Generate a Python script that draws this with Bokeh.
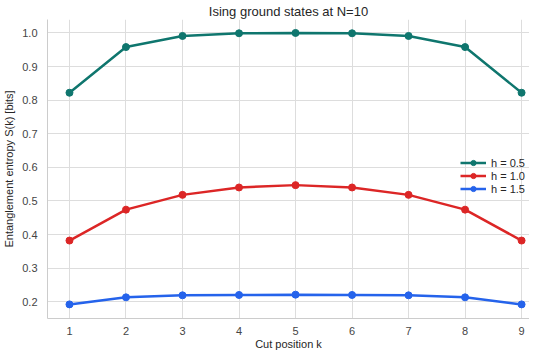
from bokeh.plotting import figure
from bokeh.models import Range1d, Legend, LegendItem, FixedTicker, PrintfTickFormatter
from bokeh.embed import file_html
from bokeh.resources import INLINE

k = [1, 2, 3, 4, 5, 6, 7, 8, 9]
s_h05 = [0.822, 0.958, 0.991, 0.999, 1.000, 0.999, 0.991, 0.958, 0.822]
s_h10 = [0.382, 0.474, 0.518, 0.540, 0.547, 0.540, 0.518, 0.474, 0.382]
s_h15 = [0.192, 0.213, 0.219, 0.220, 0.221, 0.220, 0.219, 0.213, 0.192]
labels = ["h = 0.5", "h = 1.0", "h = 1.5"]
colors = ["#0f766e", "#dc2626", "#2563eb"]
y_ticks = [0.2, 0.3, 0.4, 0.5, 0.6, 0.7, 0.8, 0.9, 1.0]

FONT = "Liberation Sans"

p = figure(frame_width=482, frame_height=299, output_backend="svg", toolbar_location=None,
           x_range=Range1d(0.611, 9.14), y_range=Range1d(0.15, 1.04),
           title="Ising ground states at N=10",
           min_border_left=0, min_border_right=0, min_border_top=10, min_border_bottom=0)

p.title.align = "center"
p.title.text_font = FONT
p.title.text_font_size = "13px"
p.title.text_font_style = "normal"
p.title.text_color = "#262626"
p.title.standoff = 2

p.outline_line_color = None
p.background_fill_color = "white"
p.border_fill_color = "white"

for ax in (p.xaxis[0], p.yaxis[0]):
    ax.axis_line_color = "#cccccc"
    ax.axis_line_width = 1
    ax.major_tick_line_color = None
    ax.minor_tick_line_color = None
    ax.major_label_text_font = FONT
    ax.major_label_text_font_size = "11px"
    ax.major_label_text_color = "#444444"
    ax.axis_label_text_font = FONT
    ax.axis_label_text_font_size = "11px"
    ax.axis_label_text_font_style = "normal"
    ax.axis_label_text_color = "#262626"

p.xaxis.ticker = FixedTicker(ticks=k)
p.yaxis.ticker = FixedTicker(ticks=y_ticks)
p.yaxis.formatter = PrintfTickFormatter(format="%.1f")
p.xaxis.axis_label = "Cut position k"
p.yaxis.axis_label = "Entanglement entropy S(k) [bits]"
p.xaxis.major_label_standoff = 2
p.yaxis.major_label_standoff = 4
p.xaxis.axis_label_standoff = 0
p.yaxis.axis_label_standoff = 4

p.grid.grid_line_color = "#dddddd"
p.grid.grid_line_width = 1

items = []
for ys, lab, c in zip([s_h05, s_h10, s_h15], labels, colors):
    r1 = p.line(k, ys, line_color=c, line_width=2.5)
    r2 = p.scatter(k, ys, size=7, fill_color=c, line_color=c)
    items.append(LegendItem(label=lab, renderers=[r1, r2]))

legend = Legend(items=items, location=(413, 123))
legend.border_line_color = None
legend.background_fill_alpha = 0
legend.label_text_font = FONT
legend.label_text_font_size = "11px"
legend.label_text_color = "#262626"
legend.glyph_width = 26
legend.label_standoff = 5
legend.spacing = 0
legend.padding = 2
legend.label_height = 13
legend.glyph_height = 13
legend.margin = 0
p.add_layout(legend, "center")

open("out.html", "w").write(file_html(p, INLINE))
